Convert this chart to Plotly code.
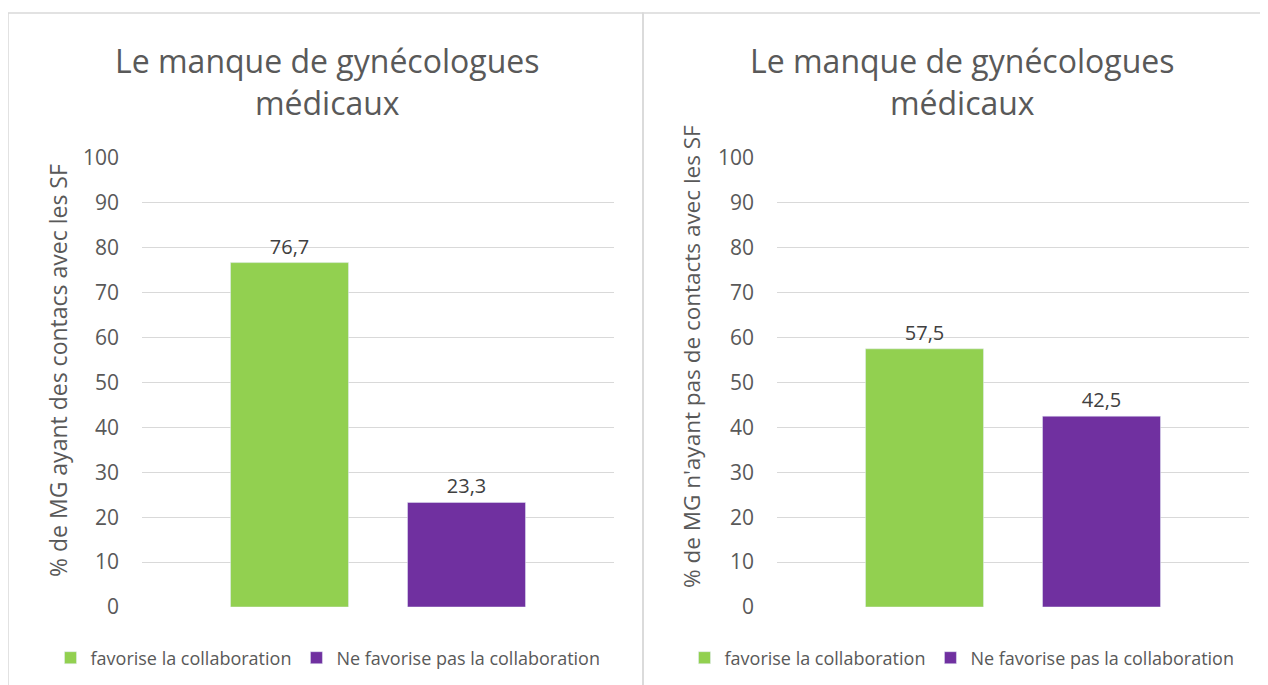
import plotly.graph_objects as go

# The page body has an 8px default margin: lay the figure out in reference pixels minus 8
OFF = 8
W, H = 1268 - OFF, 685 - OFF

series_names = ["favorise la collaboration", "Ne favorise pas la collaboration"]
colors = ["#92d050", "#7030a0"]
left_values = [76.7, 23.3]
right_values = [57.5, 42.5]
category = ["Le manque de gynécologues médicaux"]
chart_title = "Le manque de gynécologues<br>médicaux"
left_ytitle = "% de MG ayant des contacs avec les SF"
right_ytitle = "% de MG n'ayant pas de contacts avec les SF"
y_ticks = [0, 10, 20, 30, 40, 50, 60, 70, 80, 90, 100]

FONT = "'Open Sans', Lato, sans-serif"
GREY = "#595959"


def px(x):
    return (x - OFF) / W


def py(y):
    return 1 - (y - OFF) / H


fig = go.Figure()
for i, name in enumerate(series_names):
    fig.add_trace(go.Bar(x=category, y=[left_values[i]], name=name, marker_color=colors[i],
                         xaxis="x", yaxis="y", legend="legend",
                         texttemplate="%{y:.1f}", textposition="outside",
                         textfont=dict(size=20, color="#404040", family=FONT), cliponaxis=False))
for i, name in enumerate(series_names):
    fig.add_trace(go.Bar(x=category, y=[right_values[i]], name=name, marker_color=colors[i],
                         xaxis="x2", yaxis="y2", legend="legend2",
                         texttemplate="%{y:.1f}", textposition="outside",
                         textfont=dict(size=20, color="#404040", family=FONT), cliponaxis=False))

ydom = [py(607), py(158)]
yax = dict(range=[0, 100], tickvals=y_ticks, showgrid=True, gridcolor="#d9d9d9", gridwidth=1,
           zeroline=False, showline=False, ticks="", ticklabelstandoff=22,
           tickfont=dict(size=21, color=GREY, family=FONT), domain=ydom)
xax = dict(showticklabels=False, showgrid=False, zeroline=False, showline=False, ticks="")

fig.update_layout(
    width=W, height=H, margin=dict(l=0, r=0, t=0, b=0, autoexpand=False),
    paper_bgcolor="white", plot_bgcolor="white",
    separators=", ", barmode="group", bargap=0.25, bargroupgap=1/3,
    font=dict(family=FONT, color=GREY),
    xaxis=dict(xax, domain=[px(142), px(614)], anchor="y"),
    xaxis2=dict(xax, domain=[px(777), px(1249)], anchor="y2"),
    yaxis=dict(yax, anchor="x"),
    yaxis2=dict(yax, anchor="x2"),
    legend=dict(orientation="h", x=px(328), xanchor="center", y=py(658), yanchor="middle",
                font=dict(size=18, color=GREY, family=FONT), itemwidth=30,
                traceorder="normal"),
    legend2=dict(orientation="h", x=px(962), xanchor="center", y=py(658), yanchor="middle",
                 font=dict(size=18, color=GREY, family=FONT), itemwidth=30,
                 traceorder="normal"),
    annotations=[
        dict(text=chart_title, x=px(327), y=py(82), xref="paper", yref="paper",
             xanchor="center", yanchor="middle",
             showarrow=False, font=dict(size=32, color=GREY, family=FONT), align="center"),
        dict(text=chart_title, x=px(962), y=py(82), xref="paper", yref="paper",
             xanchor="center", yanchor="middle",
             showarrow=False, font=dict(size=32, color=GREY, family=FONT), align="center"),
        dict(text=left_ytitle, x=px(58), y=py(371), xref="paper", yref="paper",
             xanchor="center", yanchor="middle", textangle=-90,
             showarrow=False, font=dict(size=23, color=GREY, family=FONT)),
        dict(text=right_ytitle, x=px(691), y=py(357), xref="paper", yref="paper",
             xanchor="center", yanchor="middle", textangle=-90,
             showarrow=False, font=dict(size=22.5, color=GREY, family=FONT)),
    ],
    shapes=[
        dict(type="rect", xref="paper", yref="paper", x0=px(8), x1=px(643), y0=py(700), y1=py(13),
             line=dict(color="#d9d9d9", width=1.5), fillcolor="rgba(0,0,0,0)"),
        dict(type="rect", xref="paper", yref="paper", x0=px(643), x1=px(1290), y0=py(700), y1=py(13),
             line=dict(color="#d9d9d9", width=1.5), fillcolor="rgba(0,0,0,0)"),
    ],
)
fig.write_html("out.html")
